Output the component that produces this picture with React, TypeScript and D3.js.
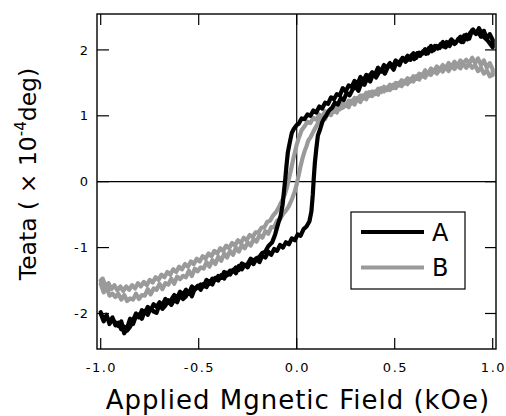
import React from "react";
import * as d3 from "d3";

const xTicks = [-1.0, -0.5, 0.0, 0.5, 1.0];
const yTicks = [-2, -1, 0, 1, 2];
const seriesNames = ["A", "B"];
const seriesColors = ["#000000", "#9a9a9a"];

// Sample A, field sweep up (-1 -> +1)
const aUp: [number, number][] = [
  [-1.0, -2.0], [-0.985, -2.12], [-0.97, -2.02], [-0.955, -2.16], [-0.94, -2.08], [-0.925, -2.14], [-0.91, -2.19],
  [-0.895, -2.12], [-0.88, -2.3], [-0.865, -2.22], [-0.85, -2.08], [-0.835, -2.16], [-0.82, -2.04], [-0.805, -2.01],
  [-0.79, -2.08], [-0.775, -1.96], [-0.76, -2.02], [-0.745, -1.92], [-0.73, -1.97], [-0.715, -1.99], [-0.7, -1.86],
  [-0.685, -1.93], [-0.67, -1.88], [-0.655, -1.8], [-0.64, -1.87], [-0.625, -1.79], [-0.61, -1.83], [-0.595, -1.72],
  [-0.58, -1.78], [-0.565, -1.74], [-0.55, -1.66], [-0.535, -1.74], [-0.52, -1.62], [-0.505, -1.58], [-0.49, -1.64],
  [-0.475, -1.55], [-0.46, -1.6], [-0.445, -1.51], [-0.43, -1.56], [-0.415, -1.46], [-0.4, -1.5], [-0.385, -1.42],
  [-0.37, -1.47], [-0.355, -1.38], [-0.34, -1.41], [-0.325, -1.34], [-0.31, -1.39], [-0.295, -1.28], [-0.28, -1.33],
  [-0.265, -1.26], [-0.25, -1.3], [-0.235, -1.21], [-0.22, -1.25], [-0.205, -1.17], [-0.19, -1.22], [-0.175, -1.12],
  [-0.16, -1.15], [-0.145, -1.06], [-0.13, -1.11], [-0.115, -1.02], [-0.1, -1.05], [-0.085, -0.96], [-0.07, -1.0],
  [-0.055, -0.92], [-0.04, -0.95], [-0.025, -0.86], [-0.01, -0.89], [0.005, -0.8], [0.02, -0.82], [0.035, -0.72],
  [0.05, -0.68], [0.065, -0.6], [0.075, -0.45], [0.082, -0.2], [0.087, 0.05], [0.093, 0.3], [0.1, 0.5],
  [0.108, 0.7], [0.12, 0.8], [0.13, 0.9], [0.14, 0.96], [0.15, 1.0], [0.165, 1.08], [0.18, 1.12],
  [0.195, 1.2], [0.21, 1.17], [0.225, 1.27], [0.24, 1.24], [0.255, 1.35], [0.27, 1.31], [0.285, 1.4],
  [0.3, 1.44], [0.315, 1.38], [0.33, 1.5], [0.345, 1.47], [0.36, 1.57], [0.375, 1.52], [0.39, 1.64],
  [0.405, 1.58], [0.42, 1.66], [0.435, 1.7], [0.45, 1.64], [0.465, 1.74], [0.48, 1.76], [0.495, 1.7],
  [0.51, 1.83], [0.525, 1.77], [0.54, 1.88], [0.555, 1.82], [0.57, 1.86], [0.585, 1.92], [0.6, 1.86],
  [0.615, 1.95], [0.63, 1.91], [0.645, 1.98], [0.66, 1.94], [0.675, 2.03], [0.69, 1.98], [0.705, 2.06],
  [0.72, 2.02], [0.735, 2.09], [0.75, 2.05], [0.765, 2.12], [0.78, 2.06], [0.795, 2.14], [0.81, 2.1],
  [0.825, 2.17], [0.84, 2.12], [0.855, 2.22], [0.87, 2.16], [0.885, 2.26], [0.9, 2.31], [0.915, 2.24],
  [0.93, 2.33], [0.945, 2.24], [0.96, 2.18], [0.975, 2.14], [0.99, 2.08], [1.0, 2.04],
];

// Sample A, field sweep down (+1 -> -1)
const aDown: [number, number][] = [
  [1.0, 2.15], [0.985, 2.24], [0.97, 2.17], [0.955, 2.29], [0.94, 2.2], [0.925, 2.28], [0.91, 2.25],
  [0.895, 2.3], [0.88, 2.17], [0.865, 2.23], [0.85, 2.12], [0.835, 2.2], [0.82, 2.14], [0.805, 2.09],
  [0.79, 2.16], [0.775, 2.1], [0.76, 2.04], [0.745, 2.12], [0.73, 2.03], [0.715, 2.06], [0.7, 2.0],
  [0.685, 2.06], [0.67, 1.95], [0.655, 2.01], [0.64, 1.94], [0.625, 1.96], [0.61, 1.88], [0.595, 1.95],
  [0.58, 1.85], [0.565, 1.91], [0.55, 1.84], [0.535, 1.86], [0.52, 1.78], [0.505, 1.84], [0.49, 1.74],
  [0.475, 1.8], [0.46, 1.73], [0.445, 1.77], [0.43, 1.67], [0.415, 1.73], [0.4, 1.63], [0.385, 1.66],
  [0.37, 1.6], [0.355, 1.62], [0.34, 1.53], [0.325, 1.59], [0.31, 1.48], [0.295, 1.53], [0.28, 1.44],
  [0.265, 1.46], [0.25, 1.37], [0.235, 1.42], [0.22, 1.31], [0.205, 1.33], [0.19, 1.25], [0.175, 1.28],
  [0.16, 1.18], [0.145, 1.2], [0.13, 1.11], [0.115, 1.14], [0.1, 1.05], [0.085, 1.08], [0.07, 1.0],
  [0.055, 1.02], [0.04, 0.95], [0.025, 0.96], [0.01, 0.88], [0.0, 0.86], [-0.015, 0.8], [-0.025, 0.74],
  [-0.035, 0.6], [-0.045, 0.45], [-0.052, 0.25], [-0.058, 0.05], [-0.065, -0.15], [-0.072, -0.35],
  [-0.082, -0.52], [-0.095, -0.64], [-0.11, -0.8], [-0.125, -0.92], [-0.145, -0.98], [-0.16, -1.06],
  [-0.175, -1.08], [-0.19, -1.14], [-0.205, -1.16], [-0.22, -1.2], [-0.235, -1.17], [-0.25, -1.25],
  [-0.265, -1.28], [-0.28, -1.24], [-0.295, -1.34], [-0.31, -1.3], [-0.325, -1.36], [-0.34, -1.35],
  [-0.355, -1.42], [-0.37, -1.37], [-0.385, -1.46], [-0.4, -1.43], [-0.415, -1.49], [-0.43, -1.47],
  [-0.445, -1.55], [-0.46, -1.49], [-0.475, -1.59], [-0.49, -1.56], [-0.505, -1.6], [-0.52, -1.64],
  [-0.535, -1.59], [-0.55, -1.7], [-0.565, -1.64], [-0.58, -1.71], [-0.595, -1.67], [-0.61, -1.76],
  [-0.625, -1.72], [-0.64, -1.79], [-0.655, -1.84], [-0.67, -1.78], [-0.685, -1.87], [-0.7, -1.83],
  [-0.715, -1.9], [-0.73, -1.86], [-0.745, -1.95], [-0.76, -1.9], [-0.775, -2.0], [-0.79, -1.95],
  [-0.805, -2.06], [-0.82, -2.0], [-0.835, -2.1], [-0.85, -2.2], [-0.865, -2.26], [-0.88, -2.2],
  [-0.895, -2.24], [-0.91, -2.14], [-0.925, -2.18], [-0.94, -2.06], [-0.955, -2.13], [-0.97, -2.04],
  [-0.985, -2.1], [-1.0, -1.98],
];

// Sample B, field sweep up (-1 -> +1)
const bUp: [number, number][] = [
  [-1.0, -1.55], [-0.985, -1.68], [-0.97, -1.6], [-0.955, -1.73], [-0.94, -1.7], [-0.925, -1.75], [-0.91, -1.7],
  [-0.895, -1.79], [-0.88, -1.72], [-0.865, -1.81], [-0.85, -1.77], [-0.835, -1.79], [-0.82, -1.7], [-0.805, -1.78],
  [-0.79, -1.72], [-0.775, -1.73], [-0.76, -1.63], [-0.745, -1.71], [-0.73, -1.62], [-0.715, -1.64], [-0.7, -1.55],
  [-0.685, -1.63], [-0.67, -1.54], [-0.655, -1.56], [-0.64, -1.47], [-0.625, -1.55], [-0.61, -1.44], [-0.595, -1.48],
  [-0.58, -1.43], [-0.565, -1.45], [-0.55, -1.35], [-0.535, -1.43], [-0.52, -1.32], [-0.505, -1.36], [-0.49, -1.3],
  [-0.475, -1.32], [-0.46, -1.22], [-0.445, -1.29], [-0.43, -1.19], [-0.415, -1.25], [-0.4, -1.14], [-0.385, -1.2],
  [-0.37, -1.09], [-0.355, -1.15], [-0.34, -1.05], [-0.325, -1.11], [-0.31, -1.0], [-0.295, -1.06], [-0.28, -0.96],
  [-0.265, -1.01], [-0.25, -0.92], [-0.235, -0.97], [-0.22, -0.87], [-0.205, -0.91], [-0.19, -0.81], [-0.175, -0.85],
  [-0.16, -0.75], [-0.145, -0.79], [-0.13, -0.69], [-0.115, -0.69], [-0.1, -0.59], [-0.085, -0.57], [-0.07, -0.49],
  [-0.055, -0.44], [-0.04, -0.37], [-0.025, -0.27], [-0.01, -0.15], [0.0, -0.04], [0.01, 0.1], [0.02, 0.24],
  [0.03, 0.36], [0.04, 0.46], [0.05, 0.54], [0.06, 0.63], [0.07, 0.67], [0.085, 0.76], [0.1, 0.84],
  [0.115, 0.93], [0.13, 0.99], [0.145, 0.95], [0.16, 1.05], [0.175, 1.01], [0.19, 1.11], [0.205, 1.05],
  [0.22, 1.16], [0.235, 1.12], [0.25, 1.17], [0.265, 1.13], [0.28, 1.23], [0.295, 1.17], [0.31, 1.27],
  [0.325, 1.21], [0.34, 1.31], [0.355, 1.25], [0.37, 1.36], [0.385, 1.3], [0.4, 1.37], [0.415, 1.32],
  [0.43, 1.42], [0.445, 1.37], [0.46, 1.43], [0.475, 1.39], [0.49, 1.47], [0.505, 1.42], [0.52, 1.5],
  [0.535, 1.45], [0.55, 1.53], [0.565, 1.48], [0.58, 1.56], [0.595, 1.52], [0.61, 1.6], [0.625, 1.55],
  [0.64, 1.63], [0.655, 1.58], [0.67, 1.66], [0.685, 1.62], [0.7, 1.69], [0.715, 1.64], [0.73, 1.71],
  [0.745, 1.67], [0.76, 1.74], [0.775, 1.68], [0.79, 1.76], [0.805, 1.71], [0.82, 1.77], [0.835, 1.72],
  [0.85, 1.79], [0.865, 1.73], [0.88, 1.79], [0.895, 1.73], [0.91, 1.77], [0.925, 1.68], [0.94, 1.73],
  [0.955, 1.64], [0.97, 1.69], [0.985, 1.6], [1.0, 1.62],
];

// Sample B, field sweep down (+1 -> -1)
const bDown: [number, number][] = [
  [1.0, 1.7], [0.985, 1.8], [0.97, 1.73], [0.955, 1.84], [0.94, 1.77], [0.925, 1.87], [0.91, 1.8],
  [0.895, 1.88], [0.88, 1.79], [0.865, 1.85], [0.85, 1.8], [0.835, 1.84], [0.82, 1.76], [0.805, 1.82],
  [0.79, 1.75], [0.775, 1.8], [0.76, 1.72], [0.745, 1.77], [0.73, 1.7], [0.715, 1.75], [0.7, 1.67],
  [0.685, 1.72], [0.67, 1.63], [0.655, 1.69], [0.64, 1.6], [0.625, 1.64], [0.61, 1.56], [0.595, 1.6],
  [0.58, 1.52], [0.565, 1.57], [0.55, 1.49], [0.535, 1.54], [0.52, 1.46], [0.505, 1.5], [0.49, 1.42],
  [0.475, 1.47], [0.46, 1.39], [0.445, 1.44], [0.43, 1.36], [0.415, 1.41], [0.4, 1.33], [0.385, 1.37],
  [0.37, 1.3], [0.355, 1.35], [0.34, 1.26], [0.325, 1.31], [0.31, 1.23], [0.295, 1.27], [0.28, 1.19],
  [0.265, 1.23], [0.25, 1.15], [0.235, 1.19], [0.22, 1.1], [0.205, 1.15], [0.19, 1.06], [0.175, 1.11],
  [0.16, 1.02], [0.145, 1.07], [0.13, 0.98], [0.115, 1.02], [0.1, 0.94], [0.085, 0.97], [0.07, 0.89],
  [0.055, 0.91], [0.04, 0.84], [0.025, 0.78], [0.01, 0.66], [0.0, 0.56], [-0.01, 0.44], [-0.02, 0.31],
  [-0.03, 0.17], [-0.04, 0.04], [-0.05, -0.09], [-0.06, -0.19], [-0.075, -0.29], [-0.09, -0.38],
  [-0.105, -0.46], [-0.12, -0.51], [-0.135, -0.59], [-0.15, -0.61], [-0.165, -0.69], [-0.18, -0.7],
  [-0.195, -0.77], [-0.21, -0.77], [-0.225, -0.84], [-0.24, -0.81], [-0.255, -0.89], [-0.27, -0.85],
  [-0.285, -0.93], [-0.3, -0.89], [-0.315, -0.97], [-0.33, -0.93], [-0.345, -1.01], [-0.36, -0.97],
  [-0.375, -1.05], [-0.39, -1.01], [-0.405, -1.09], [-0.42, -1.05], [-0.435, -1.13], [-0.45, -1.09],
  [-0.465, -1.17], [-0.48, -1.13], [-0.495, -1.21], [-0.51, -1.17], [-0.525, -1.25], [-0.54, -1.21],
  [-0.555, -1.29], [-0.57, -1.25], [-0.585, -1.33], [-0.6, -1.29], [-0.615, -1.37], [-0.63, -1.33],
  [-0.645, -1.41], [-0.66, -1.37], [-0.675, -1.45], [-0.69, -1.41], [-0.705, -1.49], [-0.72, -1.45],
  [-0.735, -1.53], [-0.75, -1.49], [-0.765, -1.57], [-0.78, -1.52], [-0.795, -1.59], [-0.81, -1.54],
  [-0.825, -1.62], [-0.84, -1.57], [-0.855, -1.64], [-0.87, -1.59], [-0.885, -1.66], [-0.9, -1.59],
  [-0.915, -1.65], [-0.93, -1.57], [-0.945, -1.63], [-0.96, -1.54], [-0.975, -1.59], [-0.99, -1.47],
  [-1.0, -1.5],
];

const W = 506;
const H = 416;
const left = 97, right = 496, top = 14, bottom = 349;
const FONT = "'DejaVu Sans', Verdana, sans-serif";

const fmtX = (t: number) => t.toFixed(1);
const fmtY = (t: number) => String(t);

export default function App() {
  const x = d3.scaleLinear().domain([-1.0189, 1.0168]).range([left, right]);
  const y = d3.scaleLinear().domain([-2.539, 2.545]).range([bottom, top]);
  const line = d3
    .line<[number, number]>()
    .x((d) => x(d[0]))
    .y((d) => y(d[1]));

  const loops = [
    { name: seriesNames[1], color: seriesColors[1], pts: [...bUp, ...bDown] },
    { name: seriesNames[0], color: seriesColors[0], pts: [...aUp, ...aDown] },
  ];

  const tickLen = 11;

  return (
    <svg
      width={W}
      height={H}
      style={{ position: "absolute", left: 0, top: 0, background: "#fff" }}
      fontFamily={FONT}
    >
      <rect x={0} y={0} width={W} height={H} fill="#fff" />
      <defs>
        <clipPath id="plot">
          <rect x={left} y={top} width={right - left} height={bottom - top} />
        </clipPath>
      </defs>
      {/* zero lines */}
      <line x1={x(0)} x2={x(0)} y1={top} y2={bottom} stroke="#000" strokeWidth={1.2} />
      <line x1={left} x2={right} y1={y(0)} y2={y(0)} stroke="#000" strokeWidth={1.2} />

      {/* curves */}
      <g clipPath="url(#plot)">
        {loops.map((l) => (
          <path
            key={l.name}
            d={line(l.pts) || ""}
            fill="none"
            stroke={l.color}
            strokeWidth={4.2}
            strokeLinejoin="round"
            strokeLinecap="round"
          />
        ))}
      </g>

      {/* frame */}
      <rect x={left} y={top} width={right - left} height={bottom - top} fill="none" stroke="#000" strokeWidth={1.4} />

      {/* x ticks (bottom + top, inward) */}
      {xTicks.map((t) => (
        <g key={"xt" + t}>
          <line x1={x(t)} x2={x(t)} y1={bottom} y2={bottom - tickLen} stroke="#000" strokeWidth={1.2} />
          <line x1={x(t)} x2={x(t)} y1={top} y2={top + tickLen} stroke="#000" strokeWidth={1.2} />
          <text x={x(t) + 0.75} y={372} textAnchor="middle" fontSize={13} letterSpacing={1.5} fill="#000">
            {fmtX(t)}
          </text>
        </g>
      ))}

      {/* y ticks (left + right, inward) */}
      {yTicks.map((t) => (
        <g key={"yt" + t}>
          <line x1={left} x2={left + tickLen + 1} y1={y(t)} y2={y(t)} stroke="#000" strokeWidth={1.2} />
          <line x1={right} x2={right - tickLen} y1={y(t)} y2={y(t)} stroke="#000" strokeWidth={1.2} />
          <text x={89} y={y(t)} dy="0.36em" textAnchor="end" fontSize={13} letterSpacing={1} fill="#000">
            {fmtY(t)}
          </text>
        </g>
      ))}

      {/* legend */}
      <g>
        <rect x={351} y={212} width={114} height={77} fill="#fff" stroke="#000" strokeWidth={1.2} />
        {seriesNames.map((n, i) => (
          <g key={n}>
            <line x1={361} x2={424} y1={232 + i * 35.5} y2={232 + i * 35.5} stroke={seriesColors[i]} strokeWidth={4} />
            <text x={432} y={232 + i * 35.5} dy="0.36em" fontSize={24} fill="#000">
              {n}
            </text>
          </g>
        ))}
      </g>

      {/* axis titles */}
      <text x={298} y={409} textAnchor="middle" fontSize={26} letterSpacing={1} fill="#000">
        Applied Mgnetic Field (kOe)
      </text>
      <text transform="translate(36,174) rotate(-90)" textAnchor="middle" fontSize={23.5} fill="#000">
        Teata ( × 10
        <tspan dy={-10} fontSize={15}>-4</tspan>
        <tspan dy={10}>deg)</tspan>
      </text>
    </svg>
  );
}
